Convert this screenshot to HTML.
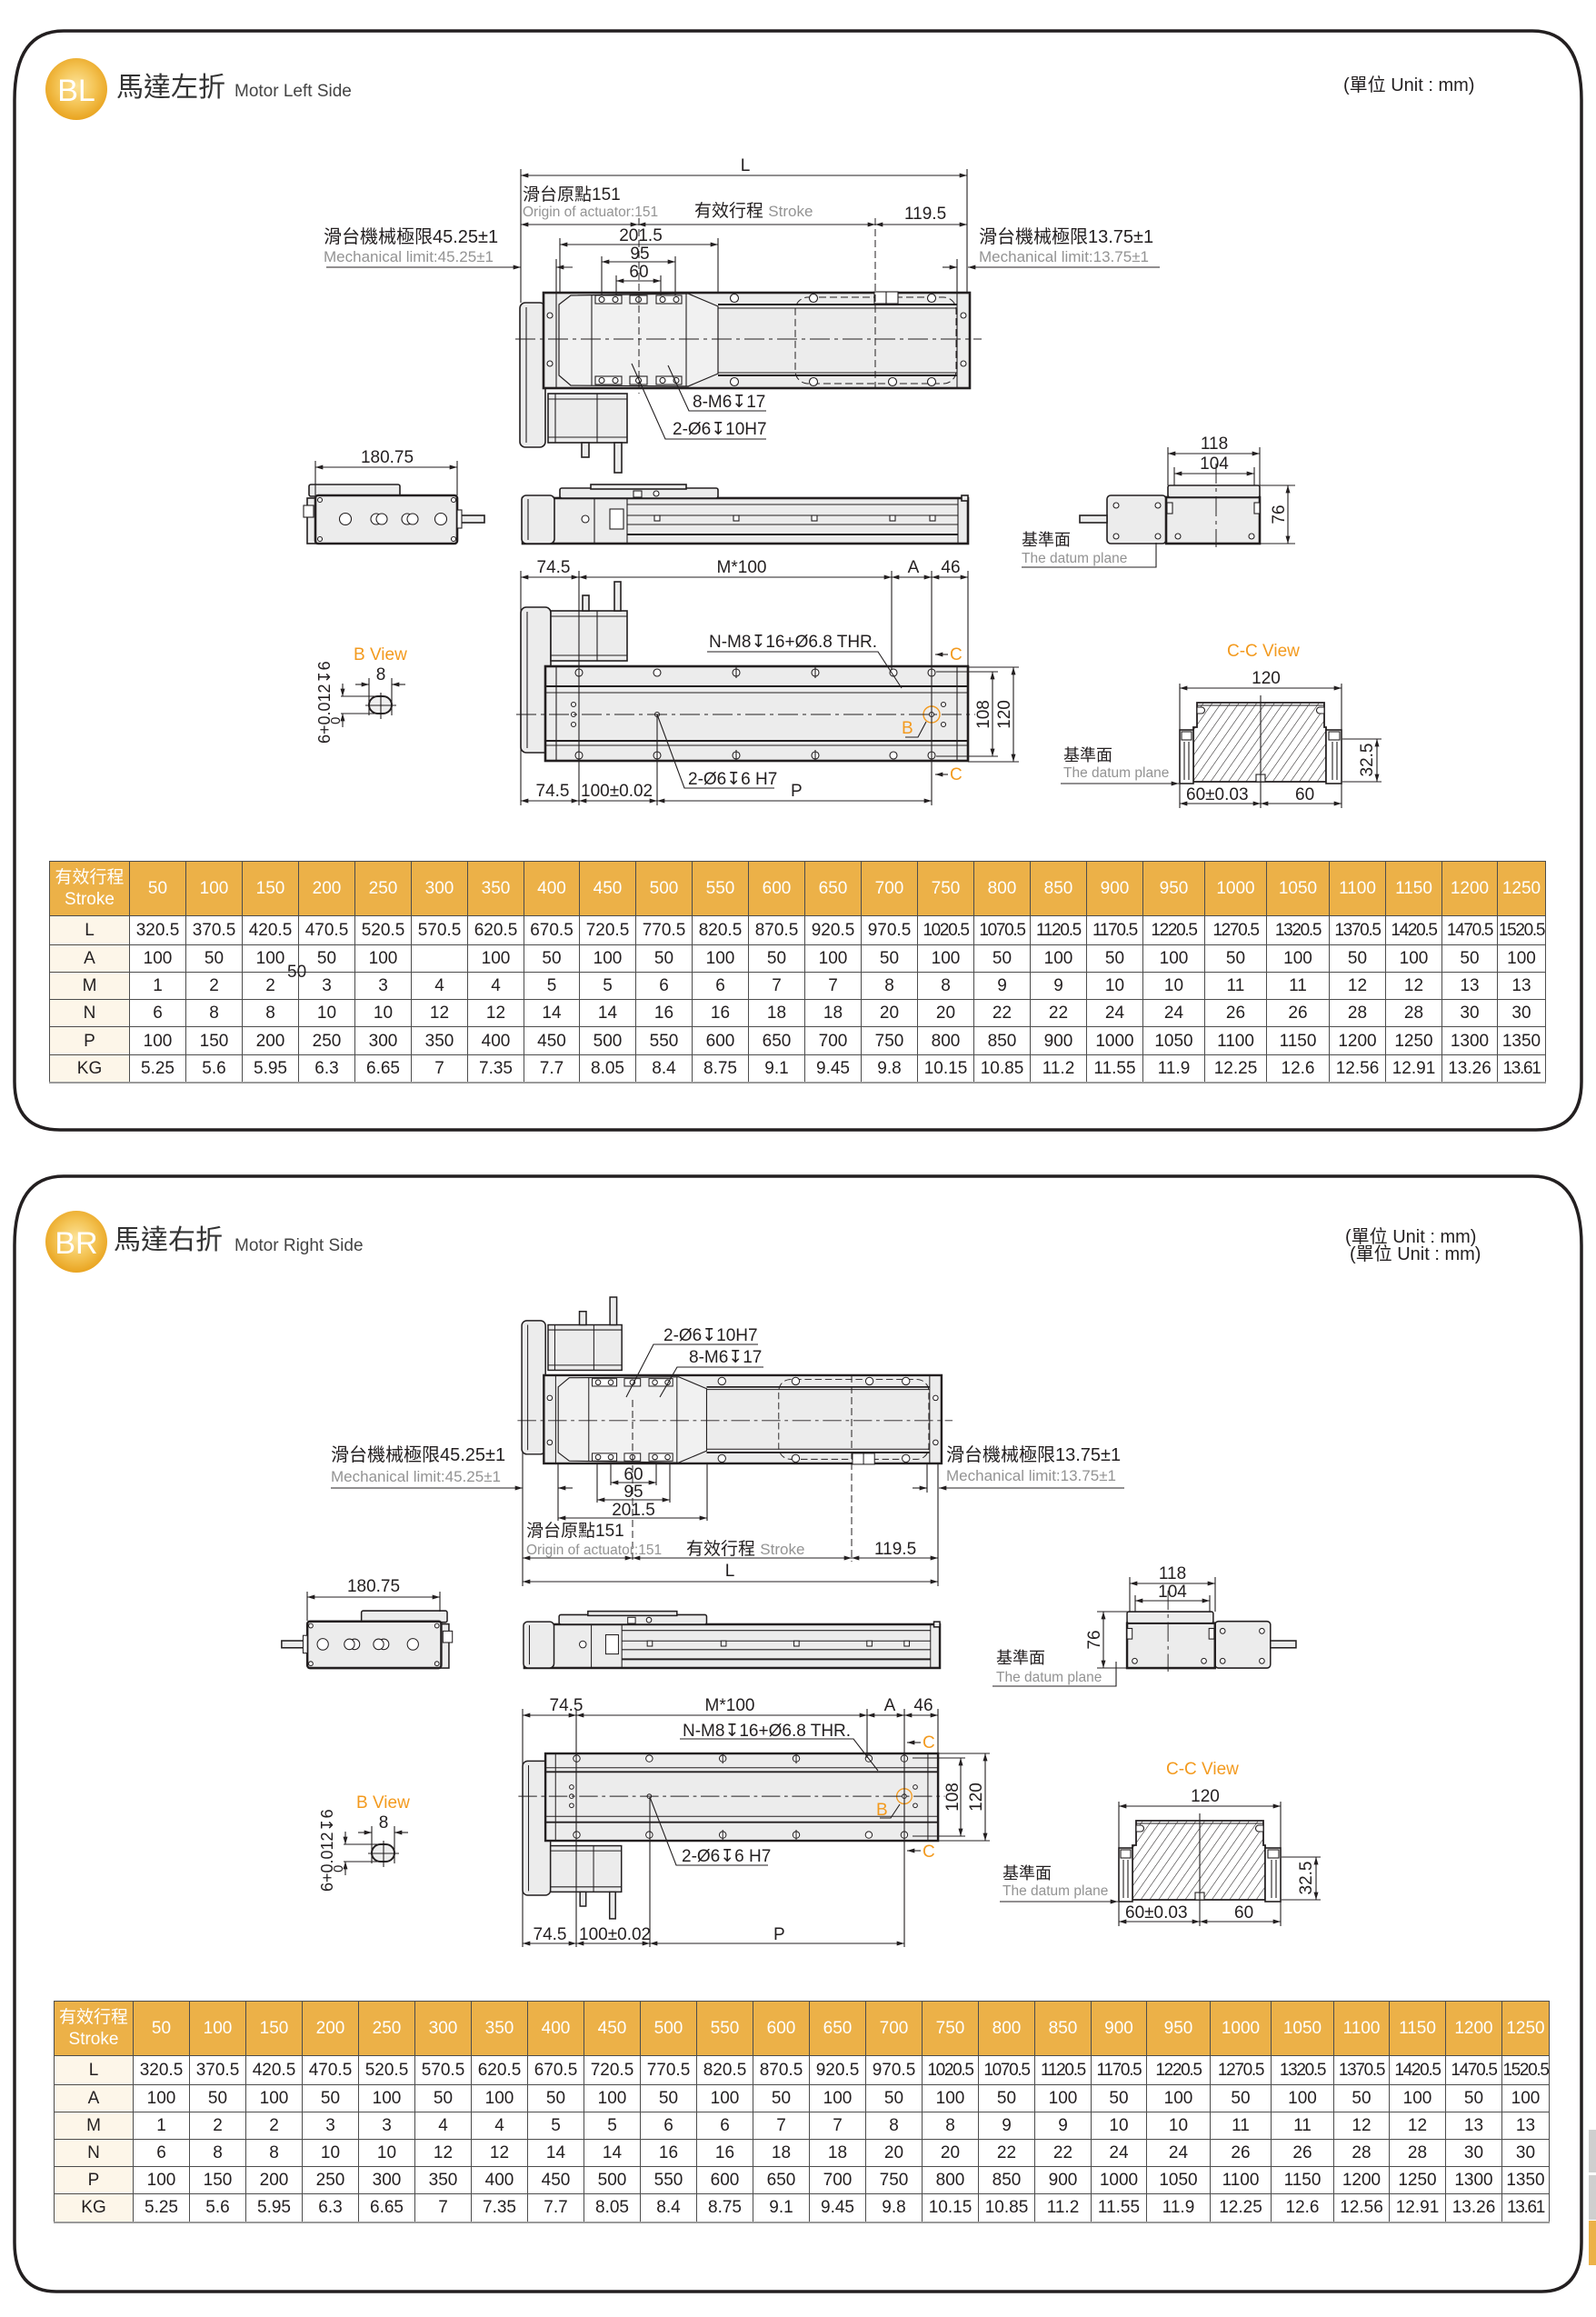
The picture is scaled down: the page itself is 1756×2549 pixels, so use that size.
<!DOCTYPE html>
<html><head><meta charset="utf-8">
<style>
html,body{margin:0;padding:0;background:#fff}
body{width:1756px;height:2549px;position:relative;overflow:hidden}
svg{position:absolute;left:0;top:0}
svg text{font-family:"Liberation Sans","DejaVu Sans","Noto Sans CJK TC",sans-serif;font-size:19px;fill:#231f20}
svg text.g,svg tspan.g{fill:#939393;font-size:15.5px}
svg text.o{fill:#f39a1e}
svg text.m{text-anchor:middle}
.s{stroke:#231f20;stroke-width:1.1;fill:none}
.f{fill:#ececec;stroke:#231f20;stroke-width:1.6}
.fb{fill:#ececec;stroke:#231f20;stroke-width:2.6}
.w{fill:#fff;stroke:#231f20;stroke-width:1.1}
.dd{stroke:#231f20;stroke-width:1.1;fill:none;marker-start:url(#ar);marker-end:url(#ar)}
.de{stroke:#231f20;stroke-width:1.1;fill:none;marker-end:url(#ar)}
.cl{stroke:#231f20;stroke-width:1;fill:none;stroke-dasharray:22 5 4 5}
.dl{stroke:#231f20;stroke-width:1;fill:none;stroke-dasharray:8 4}
.tb{position:absolute;border-collapse:collapse;table-layout:fixed;font-family:"Liberation Sans","Noto Sans CJK TC",sans-serif;font-size:19px;color:#231f20}
.tb td{border:1px solid #4d4d4d;text-align:center;vertical-align:middle;padding:0;white-space:nowrap;overflow:visible;line-height:1}
.tb tr.h td{background:#ecb148;color:#fff}
.tb td.c0{background:#fdf6e9}
.tb tr.h td.c0{background:#ecb148;font-size:19px;line-height:1.25}
.tb tr:last-child td{border-bottom:2px solid #9a9a9a}
.tb td.n{letter-spacing:-1.3px}
.stray{position:absolute;left:316px;top:1060px;font-family:"Liberation Sans",sans-serif;font-size:19px;line-height:19px;color:#231f20}
</style></head><body>
<svg width="1756" height="2549" viewBox="0 0 1756 2549" xmlns="http://www.w3.org/2000/svg">
<defs>
<marker id="ar" viewBox="0 0 10 6" markerWidth="9" markerHeight="5" refX="10" refY="3" orient="auto-start-reverse" markerUnits="userSpaceOnUse"><path d="M0,0L10,3L0,6z" fill="#231f20"/></marker>
<pattern id="h" width="8" height="8" patternUnits="userSpaceOnUse" patternTransform="rotate(35)"><rect width="8" height="8" fill="#fff"/><line x1="0" y1="0" x2="0" y2="8" stroke="#231f20" stroke-width="1.1"/></pattern>
<radialGradient id="gold" cx="50%" cy="45%" r="55%"><stop offset="0" stop-color="#fce39a"/><stop offset="0.55" stop-color="#f4c455"/><stop offset="1" stop-color="#e9a420"/></radialGradient>
</defs>

<!-- frames -->
<path d="M70,34 H1686 Q1740,34 1740,110 V1190 Q1740,1243 1690,1243 H66 Q16,1243 16,1190 V110 Q16,34 70,34 Z" fill="none" stroke="#231f20" stroke-width="3.5"/>
<path d="M70,1294 H1686 Q1740,1294 1740,1370 V2467 Q1740,2521 1696,2521 H62 Q16,2521 16,2467 V1370 Q16,1294 70,1294 Z" fill="none" stroke="#231f20" stroke-width="3.5"/>
<rect x="1748" y="2343" width="8" height="47" fill="#cfcfcf"/>
<rect x="1748" y="2393" width="8" height="49" fill="#cfcfcf"/>
<rect x="1748" y="2443" width="8" height="49" fill="#ecb148"/>

<!-- header A -->
<circle cx="84" cy="98" r="34" fill="url(#gold)"/>
<text x="84" y="111" class="m" style="font-size:34px;fill:#fff">BL</text>
<text x="128" y="106" style="font-size:30px;fill:#333">馬達左折</text>
<text x="258" y="106" style="font-size:19px;fill:#444">Motor Left Side</text>
<text x="1478" y="100" style="font-size:20px">(單位 Unit : mm)</text>

<!-- header B -->
<circle cx="84" cy="1366" r="34" fill="url(#gold)"/>
<text x="84" y="1379" class="m" style="font-size:34px;fill:#fff">BR</text>
<text x="125" y="1374" style="font-size:30px;fill:#333">馬達右折</text>
<text x="258" y="1376" style="font-size:19px;fill:#444">Motor Right Side</text>
<text x="1480" y="1367" style="font-size:20px">(單位 Unit : mm)</text>
<text x="1485" y="1386" style="font-size:20px">(單位 Unit : mm)</text>

<!-- ===== SECTION A ===== -->
<g id="topA">
<rect x="572" y="333" width="28" height="159" rx="6" class="f"/>
<line x1="579" y1="338" x2="579" y2="487" class="s"/>
<rect x="603" y="433" width="87" height="54" class="f"/>
<line x1="611" y1="433" x2="611" y2="487" class="s"/>
<line x1="657" y1="433" x2="657" y2="487" class="s"/>
<line x1="603" y1="439" x2="690" y2="439" class="s"/>
<line x1="603" y1="481" x2="690" y2="481" class="s"/>
<rect x="640" y="487" width="8" height="16" class="f"/>
<rect x="676" y="487" width="8" height="33" class="f"/>
<rect x="598" y="322" width="469" height="105" class="fb"/>
<line x1="612" y1="322" x2="612" y2="427" class="s"/>
<line x1="1053" y1="322" x2="1053" y2="427" class="s"/>
<line x1="790" y1="335" x2="1053" y2="335" class="s" style="stroke-width:2"/>
<line x1="790" y1="339" x2="1053" y2="339" class="s"/>
<line x1="790" y1="410" x2="1053" y2="410" class="s"/>
<line x1="790" y1="413" x2="1053" y2="413" class="s" style="stroke-width:2"/>
<path d="M615,335 L628,325 L757,323 L790,337 L790,411 L757,425 L628,424 L615,413 Z" fill="#f1f1f1" stroke="#231f20" stroke-width="1.2"/>
<line x1="651" y1="325" x2="651" y2="424" class="s"/>
<line x1="755" y1="323" x2="755" y2="425" class="s"/>
<rect x="875" y="327" width="177" height="95" rx="14" class="dl"/>
<rect x="655" y="325" width="29" height="9" class="w"/><rect x="693" y="325" width="19" height="9" class="w"/><rect x="722" y="325" width="28" height="9" class="w"/>
<circle cx="662" cy="329.5" r="3" class="w"/><circle cx="677" cy="329.5" r="3" class="w"/><circle cx="702.5" cy="329.5" r="3" class="w"/><circle cx="729" cy="329.5" r="3" class="w"/><circle cx="744" cy="329.5" r="3" class="w"/>
<rect x="655" y="414" width="29" height="9" class="w"/><rect x="693" y="414" width="19" height="9" class="w"/><rect x="722" y="414" width="28" height="9" class="w"/>
<circle cx="662" cy="418.5" r="3" class="w"/><circle cx="677" cy="418.5" r="3" class="w"/><circle cx="702.5" cy="418.5" r="3" class="w"/><circle cx="729" cy="418.5" r="3" class="w"/><circle cx="744" cy="418.5" r="3" class="w"/>
<circle cx="808" cy="328" r="4.5" class="w"/><circle cx="895" cy="328" r="4.5" class="w"/><circle cx="1025" cy="328" r="4.5" class="w"/>
<circle cx="808" cy="420" r="4.5" class="w"/><circle cx="895" cy="420" r="4.5" class="w"/><circle cx="982" cy="420" r="4.5" class="w"/><circle cx="1025" cy="420" r="4.5" class="w"/>
<circle cx="605" cy="347" r="3" class="w"/><circle cx="605" cy="400" r="3" class="w"/><circle cx="1060" cy="347" r="3" class="w"/><circle cx="1060" cy="400" r="3" class="w"/>
<rect x="962" y="321" width="26" height="13" class="w"/><line x1="975" y1="321" x2="975" y2="334" class="s"/>
<line x1="567" y1="373" x2="1080" y2="373" class="cl"/>
</g>
<!-- A top dims -->
<text x="820" y="188" class="m">L</text>
<line x1="573" y1="193" x2="1064" y2="193" class="dd"/>
<line x1="573" y1="186" x2="573" y2="333" class="s"/>
<line x1="1064" y1="186" x2="1064" y2="322" class="s"/>
<text x="575" y="220">滑台原點151</text>
<text x="575" y="238" class="g">Origin of actuator:151</text>
<text x="764" y="238">有效行程 <tspan class="g" style="font-size:17px">Stroke</tspan></text>
<text x="995" y="241">119.5</text>
<line x1="573" y1="247" x2="702" y2="247" class="dd"/>
<line x1="702" y1="247" x2="963" y2="247" class="dd"/>
<line x1="963" y1="247" x2="1064" y2="247" class="dd"/>
<line x1="703" y1="240" x2="703" y2="433" class="dl"/>
<line x1="963" y1="240" x2="963" y2="430" class="dl"/>
<text x="356" y="267" style="font-size:20px">滑台機械極限45.25±1</text>
<text x="356" y="288" class="g" style="font-size:17px">Mechanical limit:45.25±1</text>
<line x1="359" y1="294" x2="573" y2="294" class="de"/>
<line x1="630" y1="294" x2="612" y2="294" class="de"/>
<line x1="612" y1="285" x2="612" y2="322" class="s"/>
<text x="1077" y="267" style="font-size:20px">滑台機械極限13.75±1</text>
<text x="1077" y="288" class="g" style="font-size:17px">Mechanical limit:13.75±1</text>
<line x1="1276" y1="294" x2="1065" y2="294" class="de"/>
<line x1="1037" y1="294" x2="1053" y2="294" class="de"/>
<line x1="1053" y1="285" x2="1053" y2="322" class="s"/>
<text x="705" y="265" class="m">201.5</text>
<line x1="616" y1="269" x2="790" y2="269" class="dd"/>
<line x1="616" y1="262" x2="616" y2="322" class="s"/><line x1="790" y1="262" x2="790" y2="322" class="s"/>
<text x="704" y="285" class="m">95</text>
<line x1="662" y1="288" x2="743" y2="288" class="dd"/>
<line x1="662" y1="282" x2="662" y2="325" class="s"/><line x1="743" y1="282" x2="743" y2="325" class="s"/>
<text x="703" y="305" class="m">60</text>
<line x1="678" y1="309" x2="727" y2="309" class="dd"/>
<line x1="678" y1="303" x2="678" y2="325" class="s"/><line x1="727" y1="303" x2="727" y2="325" class="s"/>
<text x="762" y="448">8-M6↧17</text>
<polyline points="843,452 758,452 735,402" class="s"/>
<text x="740" y="478">2-Ø6↧10H7</text>
<polyline points="843,483 732,483 695,400" class="s"/>

<!-- A side view -->
<g id="sideA">
<rect x="575" y="548" width="490" height="50" class="fb"/>
<rect x="574" y="545" width="36" height="53" rx="5" class="f"/>
<line x1="581" y1="549" x2="581" y2="594" class="s"/>
<line x1="654" y1="548" x2="654" y2="598" class="s"/>
<line x1="690" y1="548" x2="690" y2="598" class="s"/>
<rect x="671" y="560" width="15" height="22" class="w"/>
<circle cx="644" cy="571" r="4" class="w"/>
<rect x="616" y="537" width="174" height="11" rx="2" class="f"/>
<rect x="650" y="533" width="105" height="5" class="f"/>
<rect x="697" y="540" width="9" height="7" class="w"/>
<circle cx="722" cy="543" r="3" class="w"/>
<line x1="690" y1="555" x2="1054" y2="555" class="s"/>
<line x1="690" y1="567" x2="1054" y2="567" class="s"/>
<line x1="690" y1="577" x2="1054" y2="577" class="s"/>
<line x1="690" y1="588" x2="1054" y2="588" class="s" style="stroke-width:2"/>
<rect x="720" y="567" width="6" height="6" class="w"/><rect x="807" y="567" width="6" height="6" class="w"/><rect x="893" y="567" width="6" height="6" class="w"/><rect x="979" y="567" width="6" height="6" class="w"/><rect x="1023" y="567" width="6" height="6" class="w"/>
<line x1="1054" y1="548" x2="1054" y2="598" class="s"/>
<rect x="1058" y="545" width="7" height="6" class="f"/>
</g>

<!-- A left end view -->
<g id="levA">
<rect x="340" y="533" width="100" height="13" rx="2" class="f"/>
<rect x="338" y="548" width="10" height="50" class="f"/>
<rect x="334" y="556" width="11" height="13" class="w"/>
<rect x="347" y="545" width="156" height="53" rx="3" class="fb"/>
<rect x="503" y="567" width="30" height="8" class="f"/>
<rect x="503" y="561" width="5" height="20" class="w"/>
<circle cx="380" cy="571" r="6.5" class="w"/>
<circle cx="414" cy="571" r="6" class="w"/><circle cx="420" cy="571" r="6" class="w"/>
<circle cx="448" cy="571" r="6" class="w"/><circle cx="454" cy="571" r="6" class="w"/>
<circle cx="485" cy="571" r="6.5" class="w"/>
<circle cx="352" cy="550" r="2.5" class="w"/><circle cx="499" cy="550" r="2.5" class="w"/><circle cx="352" cy="593" r="2.5" class="w"/><circle cx="499" cy="593" r="2.5" class="w"/>
</g>
<text x="426" y="509" class="m">180.75</text>
<line x1="347" y1="514" x2="503" y2="514" class="dd"/>
<line x1="347" y1="507" x2="347" y2="545" class="s"/><line x1="503" y1="507" x2="503" y2="545" class="s"/>

<!-- A right end view -->
<g id="revA">
<rect x="1218" y="545" width="65" height="53" rx="4" class="f"/>
<rect x="1188" y="567" width="30" height="8" class="f"/>
<rect x="1283" y="547" width="103" height="51" class="fb"/>
<rect x="1285" y="534" width="101" height="13" rx="2" class="f"/>
<circle cx="1228" cy="556" r="3" class="w"/><circle cx="1274" cy="556" r="3" class="w"/><circle cx="1228" cy="590" r="3" class="w"/><circle cx="1274" cy="590" r="3" class="w"/>
<circle cx="1296" cy="590" r="3" class="w"/><circle cx="1377" cy="590" r="3" class="w"/>
<rect x="1284" y="553" width="6" height="12" class="w"/><rect x="1380" y="553" width="6" height="12" class="w"/>
<line x1="1338" y1="510" x2="1338" y2="602" class="cl"/>
</g>
<text x="1336" y="494" class="m">118</text>
<line x1="1285" y1="499" x2="1386" y2="499" class="dd"/>
<text x="1336" y="516" class="m">104</text>
<line x1="1292" y1="521" x2="1380" y2="521" class="dd"/>
<line x1="1285" y1="492" x2="1285" y2="534" class="s"/><line x1="1386" y1="492" x2="1386" y2="534" class="s"/>
<line x1="1292" y1="514" x2="1292" y2="534" class="s"/><line x1="1380" y1="514" x2="1380" y2="534" class="s"/>
<line x1="1417" y1="534" x2="1417" y2="598" class="dd"/>
<line x1="1386" y1="534" x2="1425" y2="534" class="s"/><line x1="1386" y1="598" x2="1425" y2="598" class="s"/>
<text transform="translate(1413,566) rotate(-90)" class="m">76</text>
<text x="1124" y="600" style="font-size:18px">基準面</text>
<text x="1124" y="619" class="g">The datum plane</text>
<polyline points="1124,624 1272,624 1272,597" class="s"/>

<!-- A bottom view -->
<g id="botA">
<rect x="573" y="668" width="33" height="160" rx="6" class="f"/>
<line x1="580" y1="673" x2="580" y2="823" class="s"/>
<rect x="606" y="672" width="84" height="55" class="f"/>
<line x1="657" y1="672" x2="657" y2="727" class="s"/>
<line x1="606" y1="678" x2="690" y2="678" class="s"/>
<line x1="606" y1="721" x2="690" y2="721" class="s"/>
<rect x="641" y="655" width="7" height="17" class="f"/>
<rect x="676" y="640" width="7" height="32" class="f"/>
<rect x="600" y="733" width="465" height="104" class="fb"/>
<line x1="600" y1="755" x2="1065" y2="755" class="s" style="stroke-width:2"/>
<line x1="600" y1="762" x2="1065" y2="762" class="s"/>
<line x1="600" y1="815" x2="1065" y2="815" class="s" style="stroke-width:2"/>
<line x1="600" y1="820" x2="1065" y2="820" class="s"/>
<line x1="612" y1="733" x2="612" y2="837" class="s"/>
<line x1="1053" y1="733" x2="1053" y2="837" class="s"/>
<circle cx="637" cy="740" r="4" class="w"/><circle cx="723" cy="740" r="4" class="w"/><circle cx="810" cy="740" r="4" class="w"/><circle cx="897" cy="740" r="4" class="w"/><circle cx="983" cy="740" r="4" class="w"/><circle cx="1025" cy="740" r="4" class="w"/>
<circle cx="637" cy="831" r="4" class="w"/><circle cx="723" cy="831" r="4" class="w"/><circle cx="810" cy="831" r="4" class="w"/><circle cx="897" cy="831" r="4" class="w"/><circle cx="983" cy="831" r="4" class="w"/><circle cx="1025" cy="831" r="4" class="w"/>
<line x1="810" y1="734" x2="810" y2="746" class="s"/><line x1="897" y1="734" x2="897" y2="746" class="s"/><line x1="810" y1="825" x2="810" y2="837" class="s"/><line x1="897" y1="825" x2="897" y2="837" class="s"/>
<circle cx="631" cy="775" r="2.5" class="w"/><circle cx="631" cy="786" r="2.5" class="w"/><circle cx="631" cy="797" r="2.5" class="w"/>
<circle cx="723" cy="786" r="2.5" class="w"/><circle cx="1025" cy="786" r="2.5" class="w"/>
<circle cx="1038" cy="775" r="2.5" class="w"/><circle cx="1038" cy="797" r="2.5" class="w"/>
<circle cx="1025" cy="786" r="9" fill="none" stroke="#f39a1e" stroke-width="1.4"/>
<line x1="568" y1="786" x2="1073" y2="786" class="cl"/>
</g>
<text x="609" y="630" class="m">74.5</text>
<text x="816" y="630" class="m">M*100</text>
<text x="1005" y="630" class="m">A</text>
<text x="1046" y="630" class="m">46</text>
<line x1="573" y1="635" x2="637" y2="635" class="dd"/>
<line x1="637" y1="635" x2="981" y2="635" class="dd"/>
<line x1="981" y1="635" x2="1025" y2="635" class="dd"/>
<line x1="1025" y1="635" x2="1065" y2="635" class="dd"/>
<line x1="573" y1="628" x2="573" y2="886" class="s"/>
<line x1="637" y1="628" x2="637" y2="886" class="s"/>
<line x1="981" y1="628" x2="981" y2="737" class="s"/>
<line x1="1025" y1="628" x2="1025" y2="886" class="s"/>
<line x1="1065" y1="628" x2="1065" y2="733" class="s"/>
<line x1="723" y1="786" x2="723" y2="886" class="s"/>
<text x="1045" y="726" class="o">C</text><line x1="1043" y1="720" x2="1029" y2="720" class="de"/>
<text x="1045" y="858" class="o">C</text><line x1="1043" y1="852" x2="1029" y2="852" class="de"/>
<text x="780" y="712">N-M8↧16+Ø6.8 THR.</text>
<polyline points="778,717 966,717 992,757" class="s"/>
<text x="757" y="863">2-Ø6↧6 H7</text>
<polyline points="852,867 753,867 723,786" class="s"/>
<line x1="573" y1="881" x2="637" y2="881" class="dd"/>
<line x1="637" y1="881" x2="723" y2="881" class="dd"/>
<line x1="723" y1="881" x2="1025" y2="881" class="dd"/>
<text x="608" y="876" class="m">74.5</text>
<text x="639" y="876">100±0.02</text>
<text x="870" y="876">P</text>
<line x1="1092" y1="739" x2="1092" y2="832" class="dd"/>
<line x1="1115" y1="734" x2="1115" y2="838" class="dd"/>
<line x1="1030" y1="739" x2="1098" y2="739" class="s"/><line x1="1030" y1="832" x2="1098" y2="832" class="s"/>
<line x1="1065" y1="734" x2="1121" y2="734" class="s"/><line x1="1065" y1="838" x2="1121" y2="838" class="s"/>
<text transform="translate(1088,786) rotate(-90)" class="m">108</text>
<text transform="translate(1111,786) rotate(-90)" class="m">120</text>
<text x="992" y="807" class="o">B</text>
<polyline points="996,811 1010,811 1019,794" class="s"/>

<!-- A B View -->
<g>
<text x="389" y="726" class="o">B View</text>
<text x="419" y="748" class="m">8</text>
<line x1="391" y1="753" x2="406" y2="753" class="de"/>
<line x1="446" y1="753" x2="431" y2="753" class="de"/>
<line x1="406" y1="746" x2="406" y2="787" class="s"/>
<line x1="431" y1="746" x2="431" y2="787" class="s"/>
<line x1="375" y1="766" x2="418" y2="766" class="s"/>
<line x1="375" y1="785" x2="418" y2="785" class="s"/>
<line x1="377" y1="752" x2="377" y2="766" class="de"/>
<line x1="377" y1="800" x2="377" y2="785" class="de"/>
<rect x="406" y="766" width="25" height="19" rx="9.5" fill="#eee" stroke="#231f20" stroke-width="2"/>
<line x1="402" y1="776" x2="436" y2="776" class="s"/>
<line x1="419" y1="762" x2="419" y2="791" class="s"/>
<text transform="translate(363,818) rotate(-90)" style="font-size:18px">6+0.012↧6</text>
<text transform="translate(374,797) rotate(-90)" style="font-size:15px">0</text>
</g>

<!-- A C-C View -->
<g>
<text x="1350" y="722" class="o">C-C View</text>
<text x="1393" y="752" class="m">120</text>
<line x1="1298" y1="757" x2="1476" y2="757" class="dd"/>
<line x1="1298" y1="752" x2="1298" y2="889" class="s"/>
<line x1="1476" y1="752" x2="1476" y2="889" class="s"/>
<path d="M1317,773 H1457 V800 H1459 V860 H1313 V800 H1317 Z" fill="url(#h)" stroke="#231f20" stroke-width="1.8"/>
<line x1="1317" y1="776" x2="1457" y2="776" class="s"/>
<path d="M1317,778 h5 a3.5,3.5 0 0 1 0,7 h-5 z" class="w"/>
<path d="M1457,778 h-5 a3.5,3.5 0 0 0 0,7 h5 z" class="w"/>
<rect x="1298" y="803" width="15" height="59" class="w" style="stroke-width:1.6"/>
<rect x="1459" y="803" width="17" height="59" class="w" style="stroke-width:1.6"/>
<rect x="1300" y="805" width="11" height="9" class="w"/>
<rect x="1462" y="805" width="12" height="9" class="w"/>
<line x1="1303" y1="816" x2="1303" y2="858" class="s"/><line x1="1308" y1="816" x2="1308" y2="858" class="s"/>
<line x1="1466" y1="816" x2="1466" y2="858" class="s"/><line x1="1471" y1="816" x2="1471" y2="858" class="s"/>
<rect x="1382" y="852" width="10" height="8" class="w"/>
<line x1="1387" y1="765" x2="1387" y2="889" class="s"/>
<text x="1305" y="880">60±0.03</text>
<text x="1425" y="880">60</text>
<line x1="1298" y1="884" x2="1387" y2="884" class="dd"/>
<line x1="1387" y1="884" x2="1476" y2="884" class="dd"/>
<line x1="1515" y1="813" x2="1515" y2="860" class="dd"/>
<line x1="1477" y1="813" x2="1520" y2="813" class="s"/>
<line x1="1477" y1="860" x2="1520" y2="860" class="s"/>
<text transform="translate(1510,836) rotate(-90)" class="m">32.5</text>
<text x="1170" y="837" style="font-size:18px">基準面</text>
<text x="1170" y="855" class="g">The datum plane</text>
<line x1="1167" y1="862" x2="1297" y2="862" class="de"/>
</g>

<!-- ===== SECTION B ===== -->
<use href="#topA" transform="matrix(0.933,0,0,-0.924,40.4,1907.5)"/>
<text x="730" y="1475">2-Ø6↧10H7</text>
<polyline points="834,1479 719,1479 689,1537" class="s"/>
<text x="758" y="1499">8-M6↧17</text>
<polyline points="840,1504 745,1504 726,1537" class="s"/>
<text x="364" y="1607" style="font-size:20px">滑台機械極限45.25±1</text>
<text x="364" y="1630" class="g" style="font-size:17px">Mechanical limit:45.25±1</text>
<line x1="364" y1="1637" x2="575" y2="1637" class="de"/>
<line x1="630" y1="1637" x2="614" y2="1637" class="de"/>
<text x="1041" y="1607" style="font-size:20px">滑台機械極限13.75±1</text>
<text x="1041" y="1629" class="g" style="font-size:17px">Mechanical limit:13.75±1</text>
<line x1="1237" y1="1637" x2="1033" y2="1637" class="de"/>
<line x1="1004" y1="1637" x2="1020" y2="1637" class="de"/>
<line x1="575" y1="1598" x2="575" y2="1745" class="s"/>
<line x1="614" y1="1610" x2="614" y2="1673" class="s"/>
<line x1="1020" y1="1610" x2="1020" y2="1642" class="s"/>
<line x1="1032" y1="1610" x2="1032" y2="1745" class="s"/>
<line x1="672" y1="1610" x2="672" y2="1634" class="s"/><line x1="722" y1="1610" x2="722" y2="1634" class="s"/>
<line x1="657" y1="1610" x2="657" y2="1653" class="s"/><line x1="737" y1="1610" x2="737" y2="1653" class="s"/>
<line x1="778" y1="1610" x2="778" y2="1673" class="s"/>
<line x1="696" y1="1540" x2="696" y2="1718" class="dl"/>
<line x1="937" y1="1513" x2="937" y2="1718" class="dl"/>
<text x="697" y="1628" class="m">60</text><line x1="672" y1="1631" x2="722" y2="1631" class="dd"/>
<text x="697" y="1647" class="m">95</text><line x1="657" y1="1650" x2="737" y2="1650" class="dd"/>
<text x="697" y="1667" class="m">201.5</text><line x1="614" y1="1670" x2="778" y2="1670" class="dd"/>
<text x="579" y="1690">滑台原點151</text>
<text x="579" y="1710" class="g">Origin of actuator:151</text>
<text x="755" y="1710">有效行程 <tspan class="g" style="font-size:17px">Stroke</tspan></text>
<text x="962" y="1710">119.5</text>
<line x1="575" y1="1714" x2="696" y2="1714" class="dd"/>
<line x1="696" y1="1714" x2="937" y2="1714" class="dd"/>
<line x1="937" y1="1714" x2="1032" y2="1714" class="dd"/>
<text x="803" y="1734" class="m">L</text>
<line x1="575" y1="1740" x2="1032" y2="1740" class="dd"/>

<use href="#sideA" transform="matrix(0.933,0,0,0.96,40.4,1260.9)"/>
<use href="#levA" transform="matrix(-0.944,0,0,0.969,813,1255.6)"/>
<use href="#revA" transform="matrix(-0.939,0,0,0.969,2541.5,1255.6)"/>
<text x="411" y="1751" class="m">180.75</text>
<line x1="338" y1="1757" x2="484" y2="1757" class="dd"/>
<line x1="338" y1="1751" x2="338" y2="1783" class="s"/><line x1="484" y1="1751" x2="484" y2="1773" class="s"/>
<text x="1290" y="1737" class="m">118</text><line x1="1243" y1="1742" x2="1337" y2="1742" class="dd"/>
<text x="1290" y="1757" class="m">104</text><line x1="1249" y1="1761" x2="1331" y2="1761" class="dd"/>
<line x1="1243" y1="1735" x2="1243" y2="1773" class="s"/><line x1="1337" y1="1735" x2="1337" y2="1773" class="s"/>
<line x1="1249" y1="1755" x2="1249" y2="1773" class="s"/><line x1="1331" y1="1755" x2="1331" y2="1773" class="s"/>
<line x1="1214" y1="1773" x2="1214" y2="1835" class="dd"/>
<line x1="1207" y1="1773" x2="1242" y2="1773" class="s"/><line x1="1207" y1="1835" x2="1242" y2="1835" class="s"/>
<text transform="translate(1210,1804) rotate(-90)" class="m">76</text>
<text x="1096" y="1830" style="font-size:18px">基準面</text>
<text x="1096" y="1850" class="g">The datum plane</text>
<polyline points="1092,1855 1228,1855 1228,1828" class="s"/>

<use href="#botA" transform="matrix(0.929,0,0,-0.923,42.7,2701.6)"/>
<text x="623" y="1882" class="m">74.5</text>
<text x="803" y="1882" class="m">M*100</text>
<text x="979" y="1882" class="m">A</text>
<text x="1016" y="1882" class="m">46</text>
<line x1="575" y1="1887" x2="634" y2="1887" class="dd"/>
<line x1="634" y1="1887" x2="954" y2="1887" class="dd"/>
<line x1="954" y1="1887" x2="995" y2="1887" class="dd"/>
<line x1="995" y1="1887" x2="1032" y2="1887" class="dd"/>
<line x1="575" y1="1880" x2="575" y2="2142" class="s"/>
<line x1="634" y1="1880" x2="634" y2="2142" class="s"/>
<line x1="954" y1="1880" x2="954" y2="1934" class="s"/>
<line x1="995" y1="1880" x2="995" y2="2142" class="s"/>
<line x1="1032" y1="1880" x2="1032" y2="1929" class="s"/>
<line x1="715" y1="1977" x2="715" y2="2142" class="s"/>
<text x="751" y="1910">N-M8↧16+Ø6.8 THR.</text>
<polyline points="748,1913 939,1913 966,1948" class="s"/>
<text x="1015" y="1923" class="o">C</text><line x1="1013" y1="1917" x2="998" y2="1917" class="de"/>
<text x="1015" y="2043" class="o">C</text><line x1="1013" y1="2036" x2="998" y2="2036" class="de"/>
<line x1="1057" y1="1934" x2="1057" y2="2020" class="dd"/>
<line x1="1084" y1="1929" x2="1084" y2="2025" class="dd"/>
<line x1="1004" y1="1934" x2="1062" y2="1934" class="s"/><line x1="1004" y1="2020" x2="1062" y2="2020" class="s"/>
<line x1="1032" y1="1929" x2="1089" y2="1929" class="s"/><line x1="1032" y1="2025" x2="1089" y2="2025" class="s"/>
<text transform="translate(1054,1977) rotate(-90)" class="m">108</text>
<text transform="translate(1080,1977) rotate(-90)" class="m">120</text>
<text x="964" y="1997" class="o">B</text>
<polyline points="968,2000 980,2000 990,1985" class="s"/>
<text x="750" y="2048">2-Ø6↧6 H7</text>
<polyline points="845,2052 744,2052 715,1977" class="s"/>
<line x1="575" y1="2138" x2="634" y2="2138" class="dd"/>
<line x1="634" y1="2138" x2="715" y2="2138" class="dd"/>
<line x1="715" y1="2138" x2="995" y2="2138" class="dd"/>
<text x="605" y="2134" class="m">74.5</text>
<text x="637" y="2134">100±0.02</text>
<text x="851" y="2134">P</text>

<!-- B B View -->
<g transform="translate(3,1263)">
<text x="389" y="726" class="o">B View</text>
<text x="419" y="748" class="m">8</text>
<line x1="391" y1="753" x2="406" y2="753" class="de"/>
<line x1="446" y1="753" x2="431" y2="753" class="de"/>
<line x1="406" y1="746" x2="406" y2="787" class="s"/>
<line x1="431" y1="746" x2="431" y2="787" class="s"/>
<line x1="375" y1="766" x2="418" y2="766" class="s"/>
<line x1="375" y1="785" x2="418" y2="785" class="s"/>
<line x1="377" y1="752" x2="377" y2="766" class="de"/>
<line x1="377" y1="800" x2="377" y2="785" class="de"/>
<rect x="406" y="766" width="25" height="19" rx="9.5" fill="#eee" stroke="#231f20" stroke-width="2"/>
<line x1="402" y1="776" x2="436" y2="776" class="s"/>
<line x1="419" y1="762" x2="419" y2="791" class="s"/>
<text transform="translate(363,818) rotate(-90)" style="font-size:18px">6+0.012↧6</text>
<text transform="translate(374,797) rotate(-90)" style="font-size:15px">0</text>
</g>

<!-- B C-C View -->
<g transform="translate(-67,1230)">
<text x="1350" y="722" class="o">C-C View</text>
<text x="1393" y="752" class="m">120</text>
<line x1="1298" y1="757" x2="1476" y2="757" class="dd"/>
<line x1="1298" y1="752" x2="1298" y2="889" class="s"/>
<line x1="1476" y1="752" x2="1476" y2="889" class="s"/>
<path d="M1317,773 H1457 V800 H1459 V860 H1313 V800 H1317 Z" fill="url(#h)" stroke="#231f20" stroke-width="1.8"/>
<line x1="1317" y1="776" x2="1457" y2="776" class="s"/>
<path d="M1317,778 h5 a3.5,3.5 0 0 1 0,7 h-5 z" class="w"/>
<path d="M1457,778 h-5 a3.5,3.5 0 0 0 0,7 h5 z" class="w"/>
<rect x="1298" y="803" width="15" height="59" class="w" style="stroke-width:1.6"/>
<rect x="1459" y="803" width="17" height="59" class="w" style="stroke-width:1.6"/>
<rect x="1300" y="805" width="11" height="9" class="w"/>
<rect x="1462" y="805" width="12" height="9" class="w"/>
<line x1="1303" y1="816" x2="1303" y2="858" class="s"/><line x1="1308" y1="816" x2="1308" y2="858" class="s"/>
<line x1="1466" y1="816" x2="1466" y2="858" class="s"/><line x1="1471" y1="816" x2="1471" y2="858" class="s"/>
<rect x="1382" y="852" width="10" height="8" class="w"/>
<line x1="1387" y1="765" x2="1387" y2="889" class="s"/>
<text x="1305" y="880">60±0.03</text>
<text x="1425" y="880">60</text>
<line x1="1298" y1="884" x2="1387" y2="884" class="dd"/>
<line x1="1387" y1="884" x2="1476" y2="884" class="dd"/>
<line x1="1515" y1="813" x2="1515" y2="860" class="dd"/>
<line x1="1477" y1="813" x2="1520" y2="813" class="s"/>
<line x1="1477" y1="860" x2="1520" y2="860" class="s"/>
<text transform="translate(1510,836) rotate(-90)" class="m">32.5</text>
<text x="1170" y="837" style="font-size:18px">基準面</text>
<text x="1170" y="855" class="g">The datum plane</text>
<line x1="1167" y1="862" x2="1297" y2="862" class="de"/>
</g>
</svg>

<!-- TABLE A -->
<table class="tb" style="left:54px;top:947px;width:1646px">
<colgroup><col style="width:88px"><col style="width:62px"><col style="width:62px"><col style="width:62px"><col style="width:62px"><col style="width:62px"><col style="width:62px"><col style="width:62px"><col style="width:61px"><col style="width:62px"><col style="width:62px"><col style="width:62px"><col style="width:62px"><col style="width:62px"><col style="width:62px"><col style="width:62px"><col style="width:62px"><col style="width:62px"><col style="width:62px"><col style="width:68px"><col style="width:68px"><col style="width:69px"><col style="width:62px"><col style="width:62px"><col style="width:61px"><col style="width:53px"></colgroup>
<tr class="h" style="height:60px"><td class="c0">有效行程<br>Stroke</td><td>50</td><td>100</td><td>150</td><td>200</td><td>250</td><td>300</td><td>350</td><td>400</td><td>450</td><td>500</td><td>550</td><td>600</td><td>650</td><td>700</td><td>750</td><td>800</td><td>850</td><td>900</td><td>950</td><td>1000</td><td>1050</td><td>1100</td><td>1150</td><td>1200</td><td>1250</td></tr>
<tr style="height:32px"><td class="c0">L</td><td>320.5</td><td>370.5</td><td>420.5</td><td>470.5</td><td>520.5</td><td>570.5</td><td>620.5</td><td>670.5</td><td>720.5</td><td>770.5</td><td>820.5</td><td>870.5</td><td>920.5</td><td>970.5</td><td class="n">1020.5</td><td class="n">1070.5</td><td class="n">1120.5</td><td class="n">1170.5</td><td class="n">1220.5</td><td class="n">1270.5</td><td class="n">1320.5</td><td class="n">1370.5</td><td class="n">1420.5</td><td class="n">1470.5</td><td class="n">1520.5</td></tr>
<tr style="height:30px"><td class="c0">A</td><td>100</td><td>50</td><td>100</td><td>50</td><td>100</td><td></td><td>100</td><td>50</td><td>100</td><td>50</td><td>100</td><td>50</td><td>100</td><td>50</td><td>100</td><td>50</td><td>100</td><td>50</td><td>100</td><td>50</td><td>100</td><td>50</td><td>100</td><td>50</td><td>100</td></tr>
<tr style="height:30px"><td class="c0">M</td><td>1</td><td>2</td><td>2</td><td>3</td><td>3</td><td>4</td><td>4</td><td>5</td><td>5</td><td>6</td><td>6</td><td>7</td><td>7</td><td>8</td><td>8</td><td>9</td><td>9</td><td>10</td><td>10</td><td>11</td><td>11</td><td>12</td><td>12</td><td>13</td><td>13</td></tr>
<tr style="height:30px"><td class="c0">N</td><td>6</td><td>8</td><td>8</td><td>10</td><td>10</td><td>12</td><td>12</td><td>14</td><td>14</td><td>16</td><td>16</td><td>18</td><td>18</td><td>20</td><td>20</td><td>22</td><td>22</td><td>24</td><td>24</td><td>26</td><td>26</td><td>28</td><td>28</td><td>30</td><td>30</td></tr>
<tr style="height:31px"><td class="c0">P</td><td>100</td><td>150</td><td>200</td><td>250</td><td>300</td><td>350</td><td>400</td><td>450</td><td>500</td><td>550</td><td>600</td><td>650</td><td>700</td><td>750</td><td>800</td><td>850</td><td>900</td><td>1000</td><td>1050</td><td>1100</td><td>1150</td><td>1200</td><td>1250</td><td>1300</td><td>1350</td></tr>
<tr style="height:30px"><td class="c0">KG</td><td>5.25</td><td>5.6</td><td>5.95</td><td>6.3</td><td>6.65</td><td>7</td><td>7.35</td><td>7.7</td><td>8.05</td><td>8.4</td><td>8.75</td><td>9.1</td><td>9.45</td><td>9.8</td><td>10.15</td><td>10.85</td><td>11.2</td><td>11.55</td><td>11.9</td><td>12.25</td><td>12.6</td><td>12.56</td><td>12.91</td><td>13.26</td><td class="n">13.61</td></tr>
</table>
<div class="stray">50</div>

<!-- TABLE B -->
<table class="tb" style="left:59px;top:2201px;width:1645px">
<colgroup><col style="width:87px"><col style="width:62px"><col style="width:62px"><col style="width:62px"><col style="width:62px"><col style="width:62px"><col style="width:62px"><col style="width:62px"><col style="width:62px"><col style="width:62px"><col style="width:62px"><col style="width:62px"><col style="width:62px"><col style="width:62px"><col style="width:62px"><col style="width:62px"><col style="width:62px"><col style="width:62px"><col style="width:61px"><col style="width:70px"><col style="width:67px"><col style="width:69px"><col style="width:61px"><col style="width:62px"><col style="width:62px"><col style="width:52px"></colgroup>
<tr class="h" style="height:60px"><td class="c0">有效行程<br>Stroke</td><td>50</td><td>100</td><td>150</td><td>200</td><td>250</td><td>300</td><td>350</td><td>400</td><td>450</td><td>500</td><td>550</td><td>600</td><td>650</td><td>700</td><td>750</td><td>800</td><td>850</td><td>900</td><td>950</td><td>1000</td><td>1050</td><td>1100</td><td>1150</td><td>1200</td><td>1250</td></tr>
<tr style="height:32px"><td class="c0">L</td><td>320.5</td><td>370.5</td><td>420.5</td><td>470.5</td><td>520.5</td><td>570.5</td><td>620.5</td><td>670.5</td><td>720.5</td><td>770.5</td><td>820.5</td><td>870.5</td><td>920.5</td><td>970.5</td><td class="n">1020.5</td><td class="n">1070.5</td><td class="n">1120.5</td><td class="n">1170.5</td><td class="n">1220.5</td><td class="n">1270.5</td><td class="n">1320.5</td><td class="n">1370.5</td><td class="n">1420.5</td><td class="n">1470.5</td><td class="n">1520.5</td></tr>
<tr style="height:30px"><td class="c0">A</td><td>100</td><td>50</td><td>100</td><td>50</td><td>100</td><td>50</td><td>100</td><td>50</td><td>100</td><td>50</td><td>100</td><td>50</td><td>100</td><td>50</td><td>100</td><td>50</td><td>100</td><td>50</td><td>100</td><td>50</td><td>100</td><td>50</td><td>100</td><td>50</td><td>100</td></tr>
<tr style="height:30px"><td class="c0">M</td><td>1</td><td>2</td><td>2</td><td>3</td><td>3</td><td>4</td><td>4</td><td>5</td><td>5</td><td>6</td><td>6</td><td>7</td><td>7</td><td>8</td><td>8</td><td>9</td><td>9</td><td>10</td><td>10</td><td>11</td><td>11</td><td>12</td><td>12</td><td>13</td><td>13</td></tr>
<tr style="height:30px"><td class="c0">N</td><td>6</td><td>8</td><td>8</td><td>10</td><td>10</td><td>12</td><td>12</td><td>14</td><td>14</td><td>16</td><td>16</td><td>18</td><td>18</td><td>20</td><td>20</td><td>22</td><td>22</td><td>24</td><td>24</td><td>26</td><td>26</td><td>28</td><td>28</td><td>30</td><td>30</td></tr>
<tr style="height:30px"><td class="c0">P</td><td>100</td><td>150</td><td>200</td><td>250</td><td>300</td><td>350</td><td>400</td><td>450</td><td>500</td><td>550</td><td>600</td><td>650</td><td>700</td><td>750</td><td>800</td><td>850</td><td>900</td><td>1000</td><td>1050</td><td>1100</td><td>1150</td><td>1200</td><td>1250</td><td>1300</td><td>1350</td></tr>
<tr style="height:31px"><td class="c0">KG</td><td>5.25</td><td>5.6</td><td>5.95</td><td>6.3</td><td>6.65</td><td>7</td><td>7.35</td><td>7.7</td><td>8.05</td><td>8.4</td><td>8.75</td><td>9.1</td><td>9.45</td><td>9.8</td><td>10.15</td><td>10.85</td><td>11.2</td><td>11.55</td><td>11.9</td><td>12.25</td><td>12.6</td><td>12.56</td><td>12.91</td><td>13.26</td><td class="n">13.61</td></tr>
</table>
</body></html>
